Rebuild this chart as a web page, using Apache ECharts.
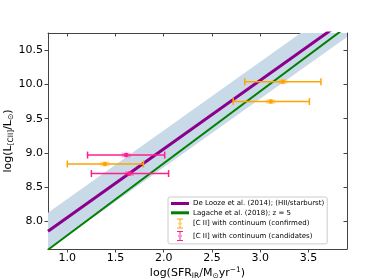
<!DOCTYPE html>
<html><head><meta charset="utf-8">
<script src="https://cdn.jsdelivr.net/npm/echarts@6/dist/echarts.min.js"></script>
<style>html,body{margin:0;padding:0;background:#fff}#c{width:385px;height:280px}</style>
</head><body><div id="c"></div>
<script>
// Tick labels
var xTicks = [1.0, 1.5, 2.0, 2.5, 3.0, 3.5];
var yTicks = [8.0, 8.5, 9.0, 9.5, 10.0, 10.5];
// Relations (end points)
var relX = [0.8, 3.9];
var deLoozeY = [7.86, 10.96];
var bandLo = [7.59, 10.69];
var bandHi = [8.13, 11.23];
var lagacheY = [7.59, 10.845];
// Confirmed sources
var confX = [3.235, 3.11, 1.39];
var confY = [10.04, 9.75, 8.84];
var confXlo = [2.84, 2.72, 1.00];
var confXhi = [3.63, 3.51, 1.79];
var confYerr = [0.02, 0.02, 0.02];
// Candidate sources
var candX = [1.61, 1.645];
var candY = [8.97, 8.70];
var candXlo = [1.21, 1.25];
var candXhi = [2.01, 2.05];
var candYerr = [0.02, 0.02];

var FONT = 'DejaVu Sans';
var cOrange = '#ffa500', cPink = '#ff1f8f', cPurple = '#8b008b', cGreen = '#008000';

function rows(x, y, lo, hi, ye) {
  return x.map(function (v, i) { return [v, y[i], lo[i], hi[i], ye[i]]; });
}
function errRender(color) {
  return function (params, api) {
    var x = api.value(0), y = api.value(1), lo = api.value(2), hi = api.value(3), ye = api.value(4);
    var c = api.coord([x, y]);
    var pl = api.coord([lo, y]), ph = api.coord([hi, y]);
    var yt = api.coord([x, y + ye])[1], yb = api.coord([x, y - ye])[1];
    var ls = {stroke: color, lineWidth: 1.5};
    return {type: 'group', children: [
      {type: 'rect', shape: {x: c[0] - 4.5, y: yt - 1, width: 9, height: yb - yt + 2}, style: {fill: color, opacity: 0.35}},
      {type: 'line', shape: {x1: pl[0], y1: c[1], x2: ph[0], y2: c[1]}, style: ls},
      {type: 'line', shape: {x1: pl[0], y1: c[1] - 3.5, x2: pl[0], y2: c[1] + 3.5}, style: ls},
      {type: 'line', shape: {x1: ph[0], y1: c[1] - 3.5, x2: ph[0], y2: c[1] + 3.5}, style: ls},
      {type: 'circle', shape: {cx: c[0], cy: c[1], r: 2.3}, style: {fill: color}}
    ]};
  };
}
function bandRender(params, api) {
  if (params.dataIndex !== 0) return null;
  var pts = [];
  for (var i = 0; i < relX.length; i++) pts.push(api.coord([relX[i], bandHi[i]]));
  for (var j = relX.length - 1; j >= 0; j--) pts.push(api.coord([relX[j], bandLo[j]]));
  return {type: 'polygon', shape: {points: pts}, style: {fill: '#c8d9e8'}};
}
var errIcon = 'path://M0,0H6V1H0Z M0,9H6V10H0Z M2.5,0H3.5V10H2.5Z M3,3.4A1.6,1.6 0 1,0 3.001,3.4Z';
var lineIcon = 'path://M0,0H18V3H0Z';

var axisLine = {lineStyle: {color: '#444', width: 1}};
var option = {
  animation: false,
  textStyle: {fontFamily: FONT},
  grid: {left: 48, right: 38, top: 33, bottom: 31, outerBoundsMode: 'none', containLabel: false},
  legend: {
    orient: 'vertical', left: 168, top: 197,
    backgroundColor: 'rgba(255,255,255,0.85)', borderColor: '#cccccc', borderWidth: 1, borderRadius: 2,
    padding: [3, 3, 3, 3], itemGap: 2.3, itemWidth: 18, itemHeight: 10,
    textStyle: {fontFamily: FONT, fontSize: 7, color: '#000', padding: [0, 0, 0, -1]},
    data: [
      {name: 'De Looze et al. (2014); (HII/starburst)', icon: lineIcon, itemStyle: {color: cPurple}},
      {name: 'Lagache et al. (2018); z = 5', icon: lineIcon, itemStyle: {color: cGreen}},
      {name: '[C II] with continuum (confirmed)', icon: errIcon, itemStyle: {color: cOrange}},
      {name: '[C II] with continuum (candidates)', icon: errIcon, itemStyle: {color: cPink}}
    ]
  },
  xAxis: [{
    type: 'value', min: 0.8, max: 3.9, position: 'bottom',
    splitLine: {show: false}, axisLine: axisLine,
    axisTick: {inside: false, length: 3.5, lineStyle: {color: '#444'}, customValues: xTicks},
    axisLabel: {fontFamily: FONT, fontSize: 11, color: '#000', margin: 4, customValues: xTicks,
      formatter: function (v) { return v.toFixed(1); }},
    name: 'log(SFR{sub|IR}/M{sub|⊙}yr{sup|−1})', nameLocation: 'middle', nameGap: 17, nameMoveOverlap: false,
    nameTextStyle: {fontFamily: FONT, fontSize: 11, color: '#000',
      rich: {sub: {fontSize: 7.5, padding: [6, 0, 0, 0], fontFamily: FONT, color: '#000'},
             sup: {fontSize: 7.5, padding: [0, 0, 6, 0], fontFamily: FONT, color: '#000'}}}
  }, {
    type: 'value', min: 0.8, max: 3.9, position: 'top',
    splitLine: {show: false}, axisLine: axisLine,
    axisTick: {inside: true, length: 3.5, lineStyle: {color: '#444'}, customValues: xTicks},
    axisLabel: {show: false}
  }],
  yAxis: [{
    type: 'value', min: 7.6, max: 10.75, position: 'left',
    splitLine: {show: false}, axisLine: axisLine,
    axisTick: {inside: false, length: 3.5, lineStyle: {color: '#444'}, customValues: yTicks},
    axisLabel: {fontFamily: FONT, fontSize: 11, color: '#000', margin: 5, customValues: yTicks,
      formatter: function (v) { return v.toFixed(1); }},
    name: 'log(L{sub|[CII]}/L{sub|⊙})', nameLocation: 'middle', nameGap: 33, nameMoveOverlap: false,
    nameTextStyle: {fontFamily: FONT, fontSize: 11, color: '#000',
      rich: {sub: {fontSize: 7.5, padding: [6, 0, 0, 0], fontFamily: FONT, color: '#000'}}}
  }, {
    type: 'value', min: 7.6, max: 10.75, position: 'right',
    splitLine: {show: false}, axisLine: axisLine,
    axisTick: {inside: true, length: 3.5, lineStyle: {color: '#444'}, customValues: yTicks},
    axisLabel: {show: false}
  }],
  series: [
    {type: 'custom', name: 'band', clip: true, renderItem: bandRender, data: [[relX[0], bandLo[0]]], z: 1, silent: true},
    {type: 'line', name: 'De Looze et al. (2014); (HII/starburst)', data: relX.map(function (v, i) { return [v, deLoozeY[i]]; }),
      showSymbol: false, clip: true, lineStyle: {color: cPurple, width: 3}, itemStyle: {color: cPurple}, z: 3},
    {type: 'line', name: 'Lagache et al. (2018); z = 5', data: relX.map(function (v, i) { return [v, lagacheY[i]]; }),
      showSymbol: false, clip: true, lineStyle: {color: cGreen, width: 2}, itemStyle: {color: cGreen}, z: 3},
    {type: 'custom', name: '[C II] with continuum (confirmed)', renderItem: errRender(cOrange),
      data: rows(confX, confY, confXlo, confXhi, confYerr), itemStyle: {color: cOrange}, z: 4},
    {type: 'custom', name: '[C II] with continuum (candidates)', renderItem: errRender(cPink),
      data: rows(candX, candY, candXlo, candXhi, candYerr), itemStyle: {color: cPink}, z: 4}
  ]
};
echarts.init(document.getElementById('c'), null, {renderer: 'canvas'}).setOption(option);
</script></body></html>
